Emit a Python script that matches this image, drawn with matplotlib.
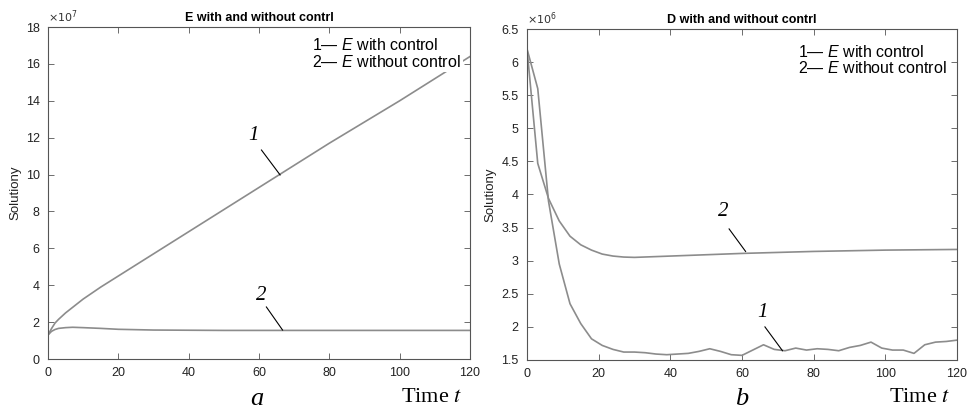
import matplotlib
matplotlib.use('Agg')
import matplotlib.pyplot as plt
from matplotlib import font_manager
from matplotlib.ticker import FuncFormatter, MultipleLocator

# E (units of 1e7)
t_E = [0, 1, 2, 3, 5, 7, 10, 15, 20, 30, 40, 50, 60, 70, 80, 90, 100, 110, 120]
E_ctrl = [1.3, 1.65, 1.95, 2.15, 2.5, 2.8, 3.25, 3.9, 4.5, 5.7, 6.9, 8.1, 9.3,
          10.5, 11.7, 12.85, 14.0, 15.2, 16.4]
E_noctrl = [1.3, 1.5, 1.6, 1.66, 1.7, 1.72, 1.7, 1.66, 1.61, 1.57, 1.56, 1.55,
            1.55, 1.55, 1.55, 1.55, 1.55, 1.55, 1.55]

# D (units of 1e6)
t_D1 = [0, 3, 6, 9, 12, 15, 18, 21, 24, 27, 30, 33, 36, 39, 42, 45, 48, 51, 54,
        57, 60, 63, 66, 69, 72, 75, 78, 81, 84, 87, 90, 93, 96, 99, 102, 105,
        108, 111, 114, 117, 120]
D_ctrl = [6.2, 5.6, 3.9, 2.95, 2.35, 2.05, 1.82, 1.72, 1.66, 1.62, 1.62, 1.61,
          1.59, 1.58, 1.59, 1.6, 1.63, 1.67, 1.63, 1.58, 1.57, 1.65, 1.73, 1.66,
          1.64, 1.68, 1.65, 1.67, 1.66, 1.64, 1.69, 1.72, 1.77, 1.68, 1.65, 1.65,
          1.6, 1.73, 1.77, 1.78, 1.8]
t_D2 = [0, 3, 6, 9, 12, 15, 18, 21, 24, 27, 30, 40, 50, 60, 70, 80, 90, 100, 110, 120]
D_noctrl = [6.2, 4.47, 3.94, 3.6, 3.37, 3.24, 3.16, 3.1, 3.07, 3.055, 3.05, 3.07,
            3.09, 3.11, 3.125, 3.14, 3.15, 3.16, 3.165, 3.17]

names = set(f.name for f in font_manager.fontManager.ttflist)
if 'Liberation Sans Narrow' in names:
    narrow, leg_size = 'Liberation Sans Narrow', 13
else:
    narrow, leg_size = 'Liberation Sans', 11.5

plt.rcParams['font.family'] = ['Liberation Sans', 'DejaVu Sans']
plt.rcParams['mathtext.fontset'] = 'custom'
plt.rcParams['mathtext.rm'] = narrow
plt.rcParams['mathtext.it'] = narrow + ':italic'

W, H = 968, 412
fig = plt.figure(figsize=(W / 100, H / 100), dpi=100)

def px(x0, y0, x1, y1):
    return [x0 / W, 1 - y1 / H, (x1 - x0) / W, (y1 - y0) / H]

line_col = '#8c8c8c'
spine_col = '#555555'


def style(ax, scale, exp, title, ylab_x):
    ax.set_xlim(0, 120)
    ax.xaxis.set_major_locator(MultipleLocator(20))
    ax.yaxis.set_major_formatter(FuncFormatter(lambda v, p: '%g' % round(v / scale, 6)))
    ax.tick_params(direction='in', top=True, right=True, length=4, width=0.6,
                   color=spine_col, labelsize=9, labelcolor='#222222', pad=6)
    for s in ax.spines.values():
        s.set_color(spine_col)
        s.set_linewidth(0.8)
    ax.set_title(title, fontsize=9, fontweight='bold', pad=4)
    ax.set_ylabel('Solutiony', fontsize=9.5, color='#222222')
    ax.yaxis.set_label_coords(ylab_x, 0.5)
    ax.text(0.0, 1.005, r'$\times10^{%d}$' % exp, transform=ax.transAxes,
            fontsize=8, ha='left', va='bottom', math_fontfamily='dejavusans',
            color='#333333')


def legend(ax, x, y1, y2):
    for y, txt in [(y1, r'$\mathit{1}$— $\mathit{E}$ with control'),
                   (y2, r'$\mathit{2}$— $\mathit{E}$ without control')]:
        ax.text(x, y, txt, transform=ax.transAxes, family=narrow, fontsize=leg_size,
                va='baseline', ha='left', zorder=5,
                bbox=dict(facecolor='white', edgecolor='none', pad=1.5))


def mark(ax, label, xy, xytext, lstart):
    ax.plot([lstart[0], xy[0]], [lstart[1], xy[1]], color='black', lw=0.8)
    ax.text(xytext[0], xytext[1], label, family='Liberation Serif', style='italic',
            fontsize=15, ha='center', va='center')


# left panel
ax1 = fig.add_axes(px(48, 27, 470, 359))
sE = 1e7
ax1.plot(t_E, [v * sE for v in E_ctrl], color=line_col, lw=1.2)
ax1.plot(t_E, [v * sE for v in E_noctrl], color=line_col, lw=1.2)
ax1.set_ylim(0, 18 * sE)
ax1.yaxis.set_major_locator(MultipleLocator(2 * sE))
style(ax1, sE, 7, 'E with and without contrl', -0.062)
legend(ax1, 0.625, 0.931, 0.880)
mark(ax1, '1', (66, 9.98 * sE), (58.5, 12.1 * sE), (60.7, 11.33 * sE))
mark(ax1, '2', (66.7, 1.57 * sE), (60.5, 3.42 * sE), (62.1, 2.82 * sE))

# right panel
ax2 = fig.add_axes(px(527, 29, 957, 360))
sD = 1e6
ax2.plot(t_D1, [v * sD for v in D_ctrl], color=line_col, lw=1.2)
ax2.plot(t_D2, [v * sD for v in D_noctrl], color=line_col, lw=1.2)
ax2.set_ylim(1.5 * sD, 6.5 * sD)
ax2.yaxis.set_major_locator(MultipleLocator(0.5 * sD))
style(ax2, sD, 6, 'D with and without contrl', -0.07)
legend(ax2, 0.630, 0.915, 0.867)
mark(ax2, '2', (61, 3.14 * sD), (54.7, 3.75 * sD), (56.4, 3.48 * sD))
mark(ax2, '1', (71.3, 1.64 * sD), (65.6, 2.21 * sD), (66.4, 2.0 * sD))

# panel captions
for xr, xc, lab in [(462, 257, 'a'), (950, 742, 'b')]:
    fig.text(xr / W, 1 - 402 / H, 'Time $t$', family='Liberation Serif',
             math_fontfamily='stix', fontsize=16, ha='right', va='baseline')
    fig.text(xc / W, 1 - 405 / H, lab, family='Liberation Serif', style='italic',
             fontsize=19, ha='center', va='baseline')

fig.savefig('out.png', dpi=100)
